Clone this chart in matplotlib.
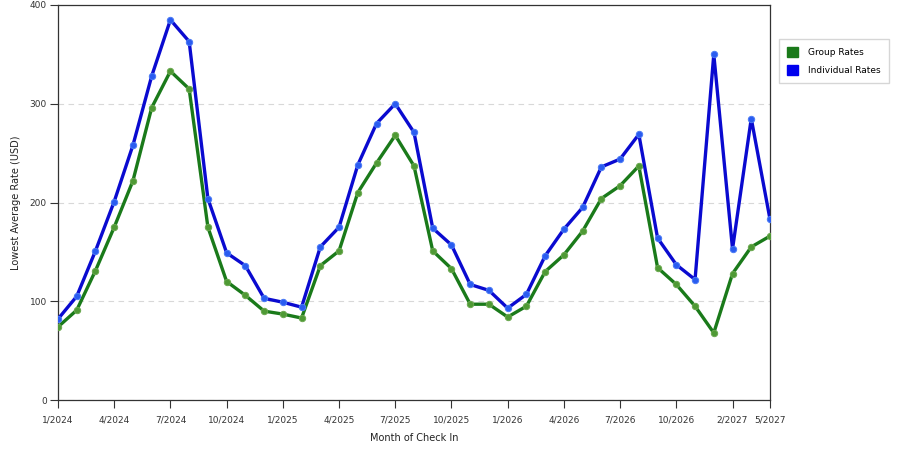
import matplotlib
matplotlib.use("Agg")
import matplotlib.pyplot as plt
from matplotlib.patches import Patch

# monthly check-in categories (some months missing near the end)
months = ["1/2024", "2/2024", "3/2024", "4/2024", "5/2024", "6/2024", "7/2024", "8/2024",
          "9/2024", "10/2024", "11/2024", "12/2024", "1/2025", "2/2025", "3/2025", "4/2025",
          "5/2025", "6/2025", "7/2025", "8/2025", "9/2025", "10/2025", "11/2025", "12/2025",
          "1/2026", "2/2026", "3/2026", "4/2026", "5/2026", "6/2026", "7/2026", "8/2026",
          "9/2026", "10/2026", "11/2026", "12/2026", "2/2027", "3/2027", "5/2027"]

group_rates = [74, 91, 131, 175, 222, 296, 333, 315, 175, 120, 106, 90, 87, 83,
               136, 151, 210, 240, 268, 237, 151, 133, 97, 97, 84, 95, 130, 147,
               171, 204, 217, 237, 134, 117, 95, 68, 128, 155, 166]
individual_rates = [82, 105, 151, 201, 258, 328, 385, 363, 204, 149, 136, 103, 99, 94,
                    155, 175, 238, 280, 300, 271, 174, 157, 117, 111, 93, 107, 146, 173,
                    195, 236, 244, 269, 164, 137, 122, 350, 153, 285, 183]

tick_labels = ["1/2024", "4/2024", "7/2024", "10/2024", "1/2025", "4/2025", "7/2025",
               "10/2025", "1/2026", "4/2026", "7/2026", "10/2026", "2/2027", "5/2027"]

x = list(range(len(months)))
tick_pos = [months.index(m) for m in tick_labels]

fig = plt.figure(figsize=(9, 4.5), dpi=100)
ax = fig.add_axes([58/900, 50/450, 712/900, 395/450])

ax.plot(x, group_rates, color='#1a7a1a', lw=2.4, marker='o', ms=4.6,
        mfc='#4f9a35', mec='#6aa84f', mew=0.7, zorder=3)
ax.plot(x, individual_rates, color='#0a0ad0', lw=2.4, marker='o', ms=4.6,
        mfc='#2a5cf0', mec='#4a7af5', mew=0.7, zorder=4)

ax.set_xlim(0, len(months) - 1)
ax.set_ylim(0, 400)
ax.set_yticks([0, 100, 200, 300, 400])
ax.set_xticks(tick_pos)
ax.set_xticklabels(tick_labels)
ax.tick_params(axis='both', labelsize=6.5, colors='#333333', width=0.8, direction='out')
ax.tick_params(axis='x', length=6, pad=5)
ax.tick_params(axis='y', length=6, pad=2)
for sp in ax.spines.values():
    sp.set_color('#333333')
    sp.set_linewidth(0.9)

ax.yaxis.grid(True, linestyle=(0, (5, 4)), color='#d8d8d8', lw=0.8)
ax.set_axisbelow(True)

ax.set_xlabel("Month of Check In", fontsize=7, color='#222222', labelpad=6)
ax.set_ylabel("Lowest Average Rate (USD)", fontsize=7, color='#222222', labelpad=6)

handles = [Patch(facecolor='#1a7a1a', edgecolor='#1a7a1a', label='Group Rates'),
           Patch(facecolor='#0000ee', edgecolor='#0000ee', label='Individual Rates')]
fig.legend(handles=handles, loc='upper left', bbox_to_anchor=(779/900, 1 - 39/450),
           fontsize=6.5, frameon=True, fancybox=False, edgecolor='#cccccc',
           handlelength=1.2, handleheight=1.3, borderpad=0.9, labelspacing=0.9,
           handletextpad=1.1, borderaxespad=0)

fig.savefig("out.png", dpi=100)
